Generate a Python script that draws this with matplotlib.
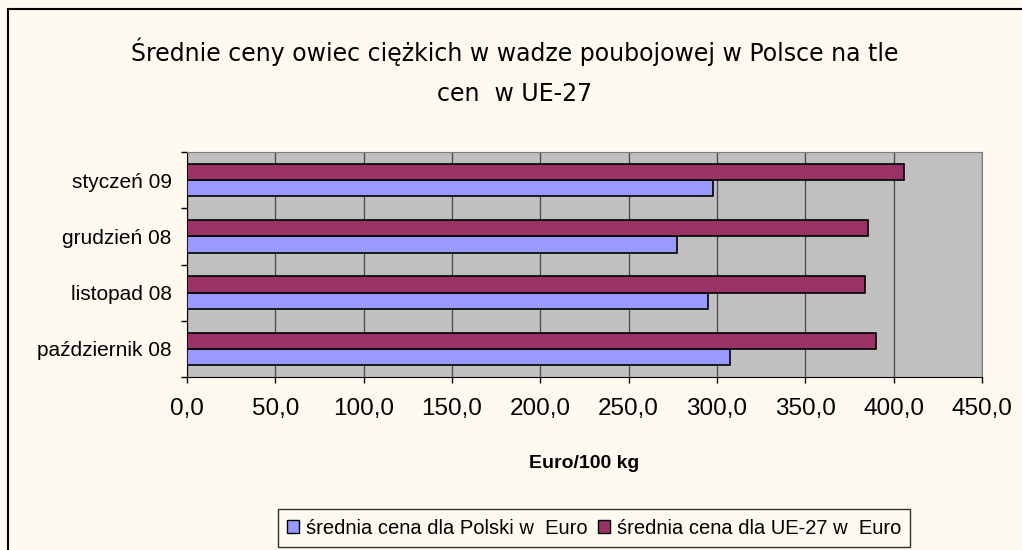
import numpy as np
import matplotlib.pyplot as plt
from matplotlib.patches import Rectangle, Patch

# Data
months = ["październik 08", "listopad 08", "grudzień 08", "styczeń 09"]
poland = [307.3, 294.8, 277.6, 297.8]
eu27 = [389.9, 384.0, 385.2, 405.9]
xticks = [0, 50, 100, 150, 200, 250, 300, 350, 400, 450]
xtick_labels = ["0,0", "50,0", "100,0", "150,0", "200,0", "250,0", "300,0", "350,0", "400,0", "450,0"]

bg = "#fffaef"
pl_color = "#9999ff"
eu_color = "#993366"

plt.rcParams['font.family'] = ['Liberation Sans', 'DejaVu Sans']

fig = plt.figure(figsize=(10.22, 5.5), dpi=100, facecolor=bg)

# frame around the chart (only left and top edges visible)
fig.patches.append(Rectangle((8 / 1022, -0.1), 1.2, 1 - 9 / 550 + 0.1, transform=fig.transFigure,
                             fill=False, edgecolor="black", linewidth=1.5, zorder=0))

ax = fig.add_axes([187 / 1022, 1 - 377 / 550, 795 / 1022, 225 / 550])
ax.set_facecolor("#c0c0c0")

y = np.arange(len(months))
h = 0.29
ax.barh(y - h / 2, poland, height=h, color=pl_color, edgecolor="black", linewidth=1.2, zorder=3)
ax.barh(y + h / 2, eu27, height=h, color=eu_color, edgecolor="black", linewidth=1.2, zorder=3)

ax.set_xlim(0, 450)
ax.set_ylim(-0.5, len(months) - 0.5)

ax.set_xticks(xticks)
ax.set_xticklabels(xtick_labels, fontsize=17.5)
ax.tick_params(axis="x", direction="out", length=4, width=1, pad=11)
ax.grid(axis="x", color="#505050", linewidth=1, zorder=1)

# category boundaries get ticks, centres get labels
ax.set_yticks(np.arange(-0.5, len(months), 1.0))
ax.set_yticklabels([])
ax.tick_params(axis="y", which="major", direction="out", length=4, width=1)
ax.set_yticks(y, minor=True)
ax.set_yticklabels(months, minor=True, fontsize=15)
ax.tick_params(axis="y", which="minor", length=0, pad=11)

for s in ["top", "right"]:
    ax.spines[s].set_color("#808080")
for s in ["left", "bottom"]:
    ax.spines[s].set_color("black")

title_font = ['DejaVu Sans']
fig.text(515 / 1022, 1 - 52 / 550, "Średnie ceny owiec ciężkich w wadze poubojowej w Polsce na tle",
         ha="center", va="center", fontsize=17, family=title_font)
fig.text(515 / 1022, 1 - 94 / 550, "cen  w UE-27",
         ha="center", va="center", fontsize=17, family=title_font)

fig.text(584 / 1022, 1 - 464 / 550, "Euro/100 kg", ha="center", va="center",
         fontsize=14, fontweight="bold")

handles = [Patch(facecolor=pl_color, edgecolor="black"), Patch(facecolor=eu_color, edgecolor="black")]
leg = fig.legend(handles, ["średnia cena dla Polski w  Euro", "średnia cena dla UE-27 w  Euro"],
                 loc="center", bbox_to_anchor=(594 / 1022, 1 - 528 / 550), ncol=2, fontsize=14.5,
                 frameon=True, fancybox=False, edgecolor="black", facecolor=bg,
                 handlelength=0.6, handleheight=0.6, handletextpad=0.35, columnspacing=0.5,
                 borderpad=0.45, borderaxespad=0)
leg.get_frame().set_linewidth(1)

fig.savefig("out.png", dpi=100, facecolor=bg)
